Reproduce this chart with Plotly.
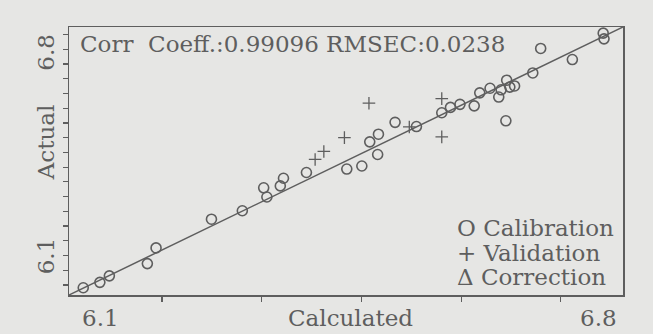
import plotly.graph_objects as go

# Calibration set (calculated vs actual)
cal_calc = [6.118, 6.139, 6.151, 6.199, 6.210, 6.280, 6.319, 6.346, 6.350, 6.367,
            6.371, 6.400, 6.451, 6.470, 6.490, 6.480, 6.491, 6.512, 6.539, 6.571,
            6.582, 6.594, 6.612, 6.619, 6.632, 6.643, 6.646, 6.653, 6.657, 6.663,
            6.652, 6.686, 6.696, 6.736, 6.775, 6.776]
cal_act = [6.119, 6.133, 6.150, 6.182, 6.223, 6.298, 6.320, 6.380, 6.356, 6.385,
           6.405, 6.420, 6.429, 6.437, 6.467, 6.500, 6.520, 6.551, 6.540, 6.576,
           6.590, 6.598, 6.594, 6.628, 6.640, 6.617, 6.636, 6.661, 6.643, 6.646,
           6.555, 6.680, 6.744, 6.715, 6.784, 6.769]

# Validation set
val_calc = [6.411, 6.422, 6.448, 6.479, 6.530, 6.571, 6.571]
val_act = [6.454, 6.475, 6.511, 6.601, 6.539, 6.613, 6.513]

# Ideal / regression line and axis range
fit_line = [6.1, 6.8]
axis_range = [6.1, 6.8]

x_tick_labels = ["6.1", "6.8"]
y_tick_labels = ["6.1", "6.8"]
stats_text = "Corr\u00a0\u00a0Coeff.:0.99096 RMSEC:0.0238"
legend_items = ["O Calibration", "+ Validation", "\u0394 Correction"]

ink = "#5e5e5e"
bg = "#e6e6e4"
font = "DejaVu Serif"

fig = go.Figure()
fig.add_trace(go.Scatter(x=fit_line, y=fit_line, mode="lines",
                         line=dict(color=ink, width=1.5), showlegend=False))
fig.add_trace(go.Scatter(x=cal_calc, y=cal_act, mode="markers",
                         marker=dict(symbol="circle-open", size=10, color=ink,
                                     line=dict(width=1.6, color=ink)),
                         showlegend=False))
fig.add_trace(go.Scatter(x=val_calc, y=val_act, mode="markers",
                         marker=dict(symbol="cross-thin-open", size=9, color=ink,
                                     line=dict(width=1.3, color=ink)),
                         showlegend=False))

axis_common = dict(range=axis_range, showgrid=False, zeroline=False,
                   showline=True, linecolor=ink, linewidth=1.5, mirror=True,
                   ticks="outside", ticklen=5, tickwidth=1.2, tickcolor=ink,
                   showticklabels=False, tickmode="linear")
fig.update_xaxes(**axis_common, tick0=6.2175, dtick=0.126)
fig.update_yaxes(**axis_common, tick0=6.126, dtick=0.0385)

anns = []
tf = dict(family=font, size=23, color=ink)
anns.append(dict(text=stats_text, xref="paper", yref="paper", x=0.016, y=0.936,
                 xanchor="left", yanchor="middle", showarrow=False, font=tf))
# x tick labels
anns.append(dict(text=x_tick_labels[0], xref="paper", yref="paper", x=0.056, y=-0.086,
                 xanchor="center", yanchor="middle", showarrow=False, font=tf))
anns.append(dict(text=x_tick_labels[1], xref="paper", yref="paper", x=0.955, y=-0.086,
                 xanchor="center", yanchor="middle", showarrow=False, font=tf))
anns.append(dict(text="Calculated", xref="paper", yref="paper", x=0.509, y=-0.084,
                 xanchor="center", yanchor="middle", showarrow=False, font=tf))
# y tick labels
anns.append(dict(text=y_tick_labels[0], xref="paper", yref="paper", x=-0.041, y=0.1455,
                 xanchor="center", yanchor="middle", textangle=-90, showarrow=False, font=tf))
anns.append(dict(text=y_tick_labels[1], xref="paper", yref="paper", x=-0.041, y=0.905,
                 xanchor="center", yanchor="middle", textangle=-90, showarrow=False, font=tf))
anns.append(dict(text="Actual", xref="paper", yref="paper", x=-0.041, y=0.571,
                 xanchor="center", yanchor="middle", textangle=-90, showarrow=False, font=tf))
# legend
for txt, yy in zip(legend_items, [0.25, 0.1567, 0.0672]):
    anns.append(dict(text=txt, xref="paper", yref="paper", x=0.697, y=yy,
                     xanchor="left", yanchor="middle", showarrow=False, font=tf))

fig.update_layout(width=653, height=334,
                  margin=dict(l=69, r=30, t=27, b=39),
                  paper_bgcolor=bg, plot_bgcolor=bg,
                  annotations=anns, showlegend=False)

fig.write_html("out.html",
               config={"displayModeBar": False, "staticPlot": True},
               post_script="document.body.style.margin='0';"
                           "document.body.style.overflow='hidden';"
                           "document.body.style.background='" + bg + "';")
